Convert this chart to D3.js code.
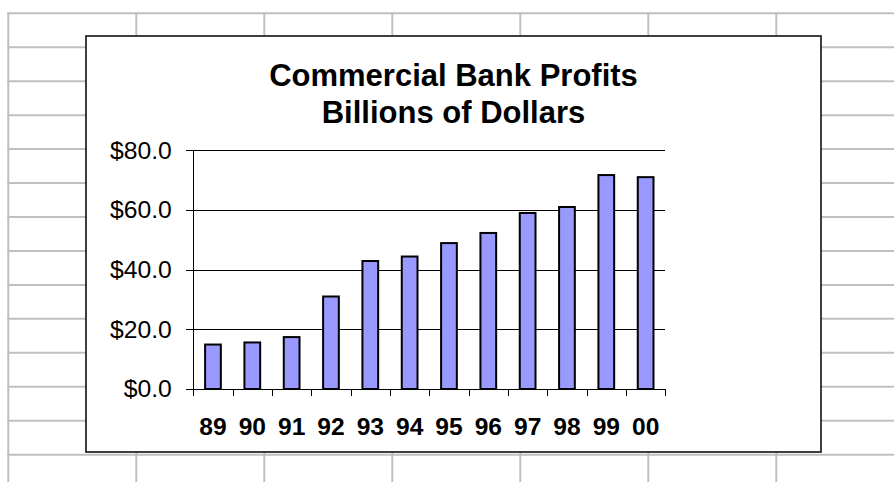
<!DOCTYPE html>
<html>
<head>
<meta charset="utf-8">
<script src="https://cdn.jsdelivr.net/npm/d3@7"></script>
<style>
  body { margin: 0; background: #fff; }
  svg { display: block; font-family: "Liberation Sans", Arial, sans-serif; }
  .axis path, .axis line { stroke: #000; shape-rendering: crispEdges; }
  .grid line { stroke: #000; shape-rendering: crispEdges; }
  .grid path { display: none; }
</style>
</head>
<body>
<svg id="chart" width="894" height="482"></svg>
<script>
// chart data
var years = ["89", "90", "91", "92", "93", "94", "95", "96", "97", "98", "99", "00"];
var profits = [14.9, 15.6, 17.4, 31.0, 42.9, 44.4, 48.9, 52.3, 59.0, 61.0, 71.7, 71.0];
var yTicks = [0, 20, 40, 60, 80];
var titleLines = ["Commercial Bank Profits", "Billions of Dollars"];

var svg = d3.select("#chart"),
    W = 894, H = 482,
    box = {x: 86, y: 36, w: 735, h: 416},
    plot = {left: 193.3, top: 150.3, right: 665.3, bottom: 389},
    width = plot.right - plot.left,
    height = plot.bottom - plot.top;

// spreadsheet cells behind the chart
var cellW = 128, cellH = 33.95, gx0 = 8.3, gy0 = 13.3;
var sheet = svg.append("g").attr("class", "sheet");
sheet.selectAll("line.row")
    .data(d3.range(gy0, H, cellH))
    .enter().append("line")
    .attr("x1", gx0 - 1).attr("x2", W)
    .attr("y1", function(d){ return d; }).attr("y2", function(d){ return d; })
    .style("stroke", "#c0c0c0").style("stroke-width", 2);
sheet.selectAll("line.col")
    .data(d3.range(gx0, W, cellW))
    .enter().append("line")
    .attr("x1", function(d){ return d; }).attr("x2", function(d){ return d; })
    .attr("y1", gy0 - 1).attr("y2", H)
    .style("stroke", "#c0c0c0").style("stroke-width", 2);

// chart area
svg.append("rect")
    .attr("x", box.x).attr("y", box.y)
    .attr("width", box.w).attr("height", box.h)
    .style("fill", "#fff")
    .style("stroke", "#111")
    .style("stroke-width", 1.6);

svg.append("text")
    .attr("x", box.x + box.w / 2)
    .attr("text-anchor", "middle")
    .style("font-size", "31px")
    .style("font-weight", "bold")
    .selectAll("tspan")
    .data(titleLines)
    .enter().append("tspan")
    .attr("x", box.x + box.w / 2)
    .attr("y", function(d, i){ return 85.5 + i * 37.5; })
    .text(function(d){ return d; });

var g = svg.append("g")
    .attr("transform", "translate(" + plot.left + "," + plot.top + ")");

var x = d3.scaleBand()
    .domain(years)
    .range([0, width])
    .paddingInner(0.6)
    .paddingOuter(0.3);

var xEdge = d3.scaleLinear()
    .domain([0, years.length])
    .range([0, width]);

var y = d3.scaleLinear()
    .domain([0, 80])
    .range([height, 0]);

// gridlines
g.append("g")
    .attr("class", "grid")
    .call(d3.axisLeft(y).tickValues(yTicks).tickSize(-width).tickFormat(""));

// y axis
g.append("g")
    .attr("class", "axis")
    .call(d3.axisLeft(y).tickValues(yTicks).tickSizeInner(7.5).tickSizeOuter(0).tickPadding(14)
        .tickFormat(function(d){ return "$" + d.toFixed(1); }))
    .selectAll("text")
    .style("font-size", "24.7px")
    .style("fill", "#000");

// bars
g.selectAll("rect.bar")
    .data(profits)
    .enter().append("rect")
    .attr("class", "bar")
    .attr("x", function(d, i){ return x(years[i]); })
    .attr("width", x.bandwidth())
    .attr("y", function(d){ return y(d); })
    .attr("height", function(d){ return y(0) - y(d); })
    .style("fill", "#9999ff")
    .style("stroke", "#000")
    .style("stroke-width", 2);

// x axis: tick marks at category edges
g.append("g")
    .attr("class", "axis")
    .attr("transform", "translate(0," + height + ")")
    .call(d3.axisBottom(xEdge).ticks(years.length).tickSizeInner(7).tickSizeOuter(0).tickFormat(""));

// x axis labels
var xl = g.append("g")
    .attr("class", "axis")
    .attr("transform", "translate(0," + height + ")")
    .call(d3.axisBottom(x).tickSize(0).tickPadding(28.5));
xl.select(".domain").remove();
xl.selectAll("text")
    .style("font-size", "24.6px")
    .style("font-weight", "bold")
    .style("fill", "#000");
</script>
</body>
</html>
